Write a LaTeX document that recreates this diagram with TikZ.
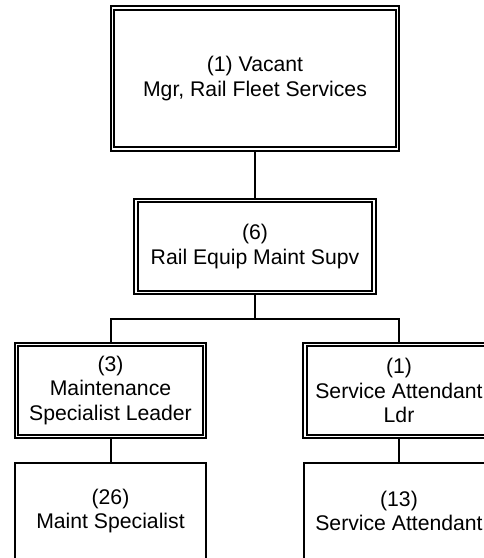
\documentclass[tikz,border=0pt]{standalone}
\usepackage{fontspec}
\setmainfont{Liberation Sans}

\begin{document}
\begin{tikzpicture}[
 x=1pt,y=-1pt,font=\fontsize{21.2}{24.4}\selectfont,
 box/.style={draw,line width=2pt,align=center,inner sep=0pt},
 dbox/.style={box,line width=1.7pt,double,double distance=1.8pt,outer sep=2.6pt},
 link/.style={line width=2pt}]
\useasboundingbox (0,0) rectangle (483,558);
\node[dbox,minimum width=285,minimum height=141] (mgr) at (255,78.5)
 {(1) Vacant\\Mgr, Rail Fleet Services};
\node[dbox,minimum width=238,minimum height=92] (supv) at (255,246.5)
 {(6)\\Rail Equip Maint Supv};
\node[dbox,minimum width=188,minimum height=92] (leadm) at (110.5,390.5)
 {(3)\\Maintenance\\Specialist Leader};
\node[dbox,minimum width=188,minimum height=92] (leads) at (399,390.5)
 {(1)\\Service Attendant\\Ldr};
\node[box,minimum width=191,minimum height=96] (staffm) at (110.5,511)
 {(26)\\Maint Specialist};
\node[box,minimum width=191,minimum height=96] (staffs) at (399,511)
 {(13)\\Service Attendant};
\coordinate (bus) at (255,319);
\draw[link] (mgr.south) -- (supv.north);
\draw[link] (supv.south) -- (bus);
\draw[link] (leadm.north) |- (bus) -| (leads.north);
\draw[link] (leadm) -- (staffm);
\draw[link] (leads) -- (staffs);
\end{tikzpicture}
\end{document}
